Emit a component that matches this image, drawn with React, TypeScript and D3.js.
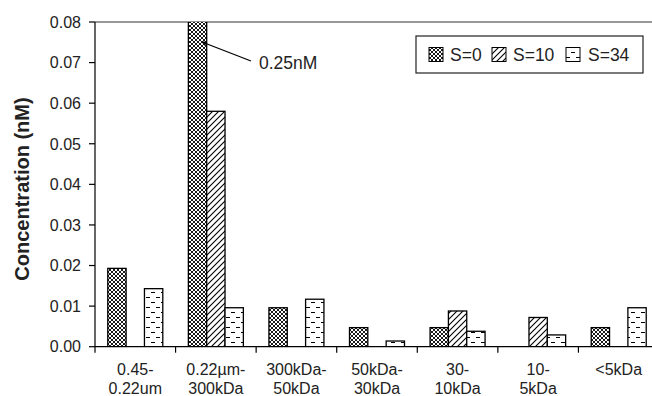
import React from "react";
import * as d3 from "d3";

const categories = [
  ["0.45-", "0.22um"],
  ["0.22µm-", "300kDa"],
  ["300kDa-", "50kDa"],
  ["50kDa-", "30kDa"],
  ["30-", "10kDa"],
  ["10-", "5kDa"],
  ["<5kDa", ""],
];
const seriesNames = ["S=0", "S=10", "S=34"];
const s0 = [0.0193, 0.25, 0.0096, 0.0047, 0.0047, 0, 0.0047];
const s10 = [0, 0.058, 0, 0, 0.0088, 0.0072, 0];
const s34 = [0.0143, 0.0096, 0.0117, 0.0014, 0.0038, 0.0029, 0.0096];
const yTicks = [0, 0.01, 0.02, 0.03, 0.04, 0.05, 0.06, 0.07, 0.08];
const annotationText = "0.25nM";

export default function App() {
  const W = 652, H = 396;
  const left = 95, right = 659, top = 22, bottom = 346.7;
  const font = "'Liberation Sans', Arial, sans-serif";
  const x = d3.scaleBand<number>().domain(d3.range(categories.length)).range([left, right]);
  const inner = d3.scaleBand<number>().domain([0, 1, 2]).range([0, 55]);
  const pad = (x.bandwidth() - 55) / 2;
  const y = d3.scaleLinear().domain([0, 0.08]).range([bottom, top]);
  const series = [s0, s10, s34];
  const fills = ["url(#p0)", "url(#p1)", "url(#p2)"];
  const col = "#000";
  const legendSw = [429, 492, 566];
  const legendTx = [450, 513, 588];

  return (
    <svg width={W} height={H} style={{ position: "absolute", left: 0, top: 0, background: "#fff" }}>
      <defs>
        <pattern id="p0" width={4} height={4} patternUnits="userSpaceOnUse">
          <rect width={4} height={4} fill="#fff" />
          <path d="M0,0 L4,4 M4,0 L0,4" stroke="#000" strokeWidth={0.9} />
        </pattern>
        <pattern id="p1" width={6} height={6} patternUnits="userSpaceOnUse">
          <rect width={6} height={6} fill="#fff" />
          <path d="M-1,7 L7,-1 M-1,1 L1,-1 M5,7 L7,5" stroke="#000" strokeWidth={1.1} />
        </pattern>
        <pattern id="p2" width={10} height={10} patternUnits="userSpaceOnUse">
          <rect width={10} height={10} fill="#fff" />
          <path d="M1,2.5 L5,2.5 M6,7.5 L10,7.5" stroke="#000" strokeWidth={1.1} />
        </pattern>
        <clipPath id="plot">
          <rect x={left} y={top} width={right - left} height={bottom - top} />
        </clipPath>
      </defs>

      {/* top frame line */}
      <line x1={left} x2={right} y1={top} y2={top} stroke="#333" strokeWidth={1.2} />

      {/* bars */}
      <g clipPath="url(#plot)">
        {series.map((vals, si) =>
          vals.map((v, ci) =>
            v > 0 ? (
              <rect
                key={`${si}-${ci}`}
                x={(x(ci) as number) + pad + (inner(si) as number)}
                y={y(v)}
                width={inner.bandwidth()}
                height={bottom - y(v)}
                fill={fills[si]}
                stroke={col}
                strokeWidth={1.3}
              />
            ) : null
          )
        )}
      </g>

      {/* y axis */}
      <line x1={left} x2={left} y1={top} y2={bottom} stroke="#000" strokeWidth={1.2} />
      {yTicks.map((t) => (
        <g key={t}>
          <line x1={left - 6} x2={left} y1={y(t)} y2={y(t)} stroke="#000" strokeWidth={1.2} />
          <text x={81} y={y(t)} dy="0.36em" textAnchor="end" fontFamily={font} fontSize={16} fill="#222">
            {d3.format(".2f")(t)}
          </text>
        </g>
      ))}

      {/* x axis */}
      <line x1={left} x2={right} y1={bottom} y2={bottom} stroke="#000" strokeWidth={1.2} />
      {d3.range(categories.length + 1).map((i) => {
        const xx = i < categories.length ? (x(i) as number) : right;
        return <line key={i} x1={xx} x2={xx} y1={bottom} y2={bottom + 6} stroke="#000" strokeWidth={1.2} />;
      })}
      {categories.map((c, i) => (
        <text key={i} textAnchor="middle" fontFamily={font} fontSize={16} fill="#222">
          <tspan x={(x(i) as number) + x.bandwidth() / 2} y={375}>{c[0]}</tspan>
          {c[1] ? <tspan x={(x(i) as number) + x.bandwidth() / 2} y={393.5}>{c[1]}</tspan> : null}
        </text>
      ))}

      {/* y title */}
      <text
        transform={`translate(29,189) rotate(-90)`}
        textAnchor="middle"
        fontFamily={font}
        fontSize={20}
        fontWeight="bold"
        fill="#222"
      >
        Concentration (nM)
      </text>

      {/* annotation */}
      <line x1={202} y1={42} x2={251} y2={61} stroke="#000" strokeWidth={1.3} />
      <path d="M201,41.5 L207,41.5 L205,46 Z" fill="#000" />
      <text x={259} y={69} fontFamily={font} fontSize={17.5} fill="#222">{annotationText}</text>

      {/* legend */}
      <rect x={416} y={36} width={227} height={37} fill="#fff" stroke="#222" strokeWidth={1.2} />
      {seriesNames.map((n, i) => (
        <g key={n}>
          <rect x={legendSw[i]} y={47.5} width={14} height={14} fill={fills[i]} stroke="#000" strokeWidth={1} />
          <text x={legendTx[i]} y={54.5} dy="0.36em" fontFamily={font} fontSize={17.5} fill="#222">{n}</text>
        </g>
      ))}
    </svg>
  );
}
